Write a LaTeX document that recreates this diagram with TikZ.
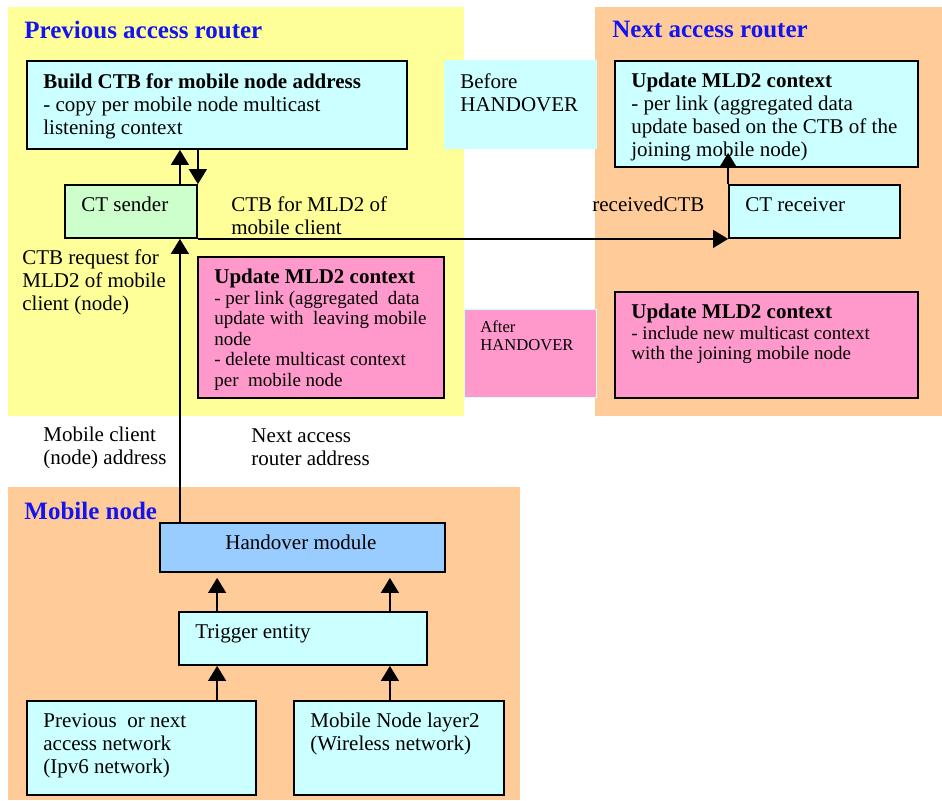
\documentclass[tikz,border=0pt]{standalone}
\usepackage{fontspec}
\setmainfont{Liberation Serif}
\usetikzlibrary{arrows.meta,fit,positioning}
\definecolor{padyellow}{HTML}{FFFF99}
\definecolor{padorange}{HTML}{FFCC99}
\definecolor{boxcyan}{HTML}{CCFFFF}
\definecolor{boxgreen}{HTML}{CCFFCC}
\definecolor{boxpink}{HTML}{FF99CC}
\definecolor{boxblue}{HTML}{99CCFF}
\definecolor{titleblue}{HTML}{1414F0}

\begin{document}
\begin{tikzpicture}[x=0.5pt,y=-0.5pt,
		every node/.style={font=\fontsize{10.5}{11.5}\selectfont},
		area/.style={fill=#1,draw=none,inner sep=0pt},
		box/.style={draw=black,line width=0.9pt,fill=#1,inner sep=0pt},
		txt/.style={inner sep=0pt,align=left,anchor=north west},
		small/.style={font=\fontsize{9.5}{10.25}\selectfont},
		title/.style={txt,text=titleblue,font=\fontsize{12.5}{14}\selectfont\bfseries},
		arr/.style={line width=0.65pt,-{Triangle[length=7.5pt,width=9pt]}}]
		\useasboundingbox (0,0) rectangle (942,800);

		% the three areas
		\fill[padyellow] (8,7) rectangle (464,416);
		\fill[padorange] (595,7) rectangle (942,416);
		\fill[padorange] (8,487) rectangle (520,800);

		\node (prevtitle) [title] at (24,21) {Previous access router};
		\node (nexttitle) [title] at (612,21) {Next access router};
		\node (mobtitle) [title] at (24,502) {Mobile node};

		% before / after handover
		\node (before) [area=boxcyan, fit={(444,60) (597,149)}] {};
		\node (after) [area=boxpink, draw=boxcyan, line width=0.4pt, fit={(464,309) (596,397)}] {};
		\node (beforetxt) [txt] at (460,73) {Before\\HANDOVER};
		\node (aftertxt) [txt,font=\fontsize{8.3}{9}\selectfont] at (480,320) {After\\HANDOVER};

		% previous access router
		\node (build) [box=boxcyan, fit={(27,61) (407,149)}] {};
		\node (sender) [box=boxgreen, fit={(65,185) (197,238)}] {};
		\node (leave) [box=boxpink, fit={(198,257) (444,398)}] {};
		\node (buildtxt) [txt] at (43,73) {\textbf{Build CTB for mobile node address}\\- copy per mobile node multicast\\listening context};
		\node (sendertxt) [txt] at (81,197) {CT sender};
		\node (leavetxt) [txt,small] at (214,269) {{\fontsize{10.5}{10.25}\selectfont\bfseries Update MLD2 context}\\- per link (aggregated\ \ data\\update with\ \ leaving mobile\\node\\- delete multicast context\\per\ \ mobile node};
		\node (ctblbl) [txt] at (231,196) {CTB for MLD2 of\\mobile client};
		\node (reqlbl) [txt] at (22,249) {CTB request for\\MLD2 of mobile\\client (node)};

		% next access router
		\node (joinupd) [box=boxcyan, fit={(615,61) (918,167)}] {};
		\node (receiver) [box=boxcyan, fit={(729,185) (900,238)}] {};
		\node (include) [box=boxpink, fit={(615,292) (918,398)}] {};
		\node (jointxt) [txt] at (631,73) {\textbf{Update MLD2 context}\\- per link (aggregated data\\update based on the CTB of the\\joining mobile node)};
		\node (receivertxt) [txt] at (745,197) {CT receiver};
		\node (rcvdlbl) [txt] at (592,197) {receivedCTB};
		\node (includetxt) [txt,small] at (631,304) {{\fontsize{10.5}{10.25}\selectfont\bfseries Update MLD2 context}\\- include new multicast context\\with the joining mobile node};

		% addresses
		\node (mcaddr) [txt] at (43,427) {Mobile client\\(node) address};
		\node (naraddr) [txt] at (251,428) {Next access\\router address};

		% mobile node
		\node (hand) [box=boxblue, fit={(160,523) (445,572)}] {};
		\node (trig) [box=boxcyan, fit={(179,612) (427,665)}] {};
		\node (prevnet) [box=boxcyan, fit={(27,701) (256,795)}] {};
		\node (l2net) [box=boxcyan, fit={(294,701) (504,795)}] {};
		\node (handtxt) [inner sep=0pt, anchor=north] at (301,535) {Handover module};
		\node (trigtxt) [txt] at (195,624) {Trigger entity};
		\node (prevnettxt) [txt] at (43,713) {Previous\ \ or next\\access network\\(Ipv6 network)};
		\node (l2nettxt) [txt] at (310,713) {Mobile Node layer2\\(Wireless network)};

		% connectors
		\draw[arr] ([xshift=-9pt]sender.north east) -- ([xshift=-9pt]sender.north east |- build.south);
		\draw[arr] (sender.north east |- build.south) -- (sender.north east);
		\draw[arr] (sender.south east) -- (receiver.south west);
		\draw[arr, shorten >=-7.5pt] (receiver.north west) -- (receiver.north west |- joinupd.south);
		\draw[arr] ([xshift=-9pt]sender.south east |- hand.north) -- ([xshift=-9pt]sender.south east);
		\draw[arr, shorten >=2.5pt] ([xshift=19.5pt]trig.north west) -- ([xshift=19.5pt]trig.north west |- hand.south);
		\draw[arr, shorten >=2.5pt] ([xshift=-19pt]trig.north east) -- ([xshift=-19pt]trig.north east |- hand.south);
		\draw[arr] ([xshift=19.5pt]trig.south west |- prevnet.north) -- ([xshift=19.5pt]trig.south west);
		\draw[arr] ([xshift=-19pt]trig.south east |- l2net.north) -- ([xshift=-19pt]trig.south east);
	\end{tikzpicture}
\end{document}
